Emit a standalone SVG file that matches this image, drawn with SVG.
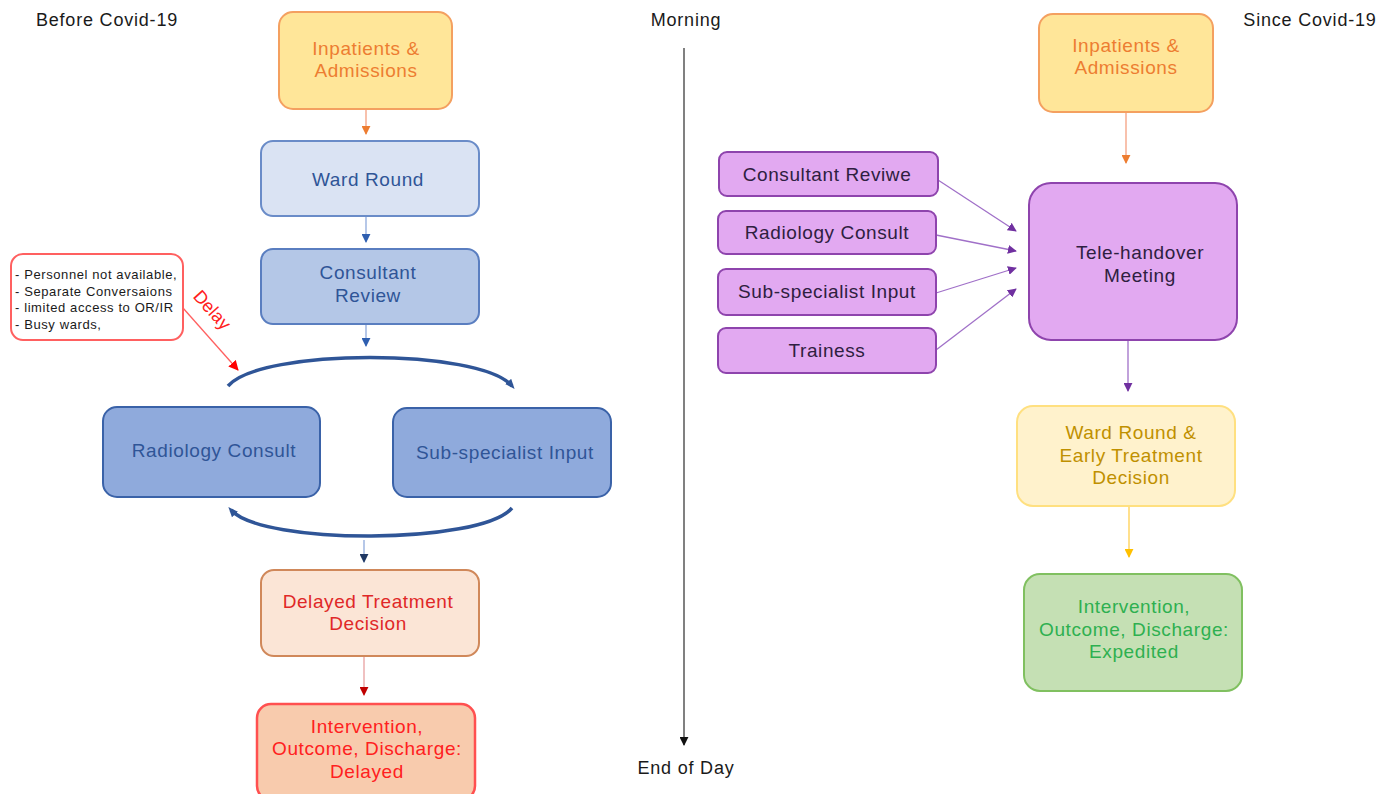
<svg xmlns="http://www.w3.org/2000/svg" width="1394" height="794" viewBox="0 0 1394 794">
<style>
text{font-family:"Liberation Sans",Arial,sans-serif;text-anchor:middle}
.t18{font-size:19px;letter-spacing:0.6px}
.lbl{font-size:18px;letter-spacing:0.8px;fill:#1a1a1a}
.note{font-size:13px;letter-spacing:0.6px;fill:#1a1a1a;text-anchor:start}
.ln{fill:none;stroke-width:1.3}
</style>
<defs>
<marker id="aO" viewBox="0 0 10 10" refX="9" refY="5" markerWidth="9" markerHeight="9" markerUnits="userSpaceOnUse" orient="auto"><path d="M0,0L10,5L0,10z" fill="#ED7D31"/></marker>
<marker id="aB" viewBox="0 0 10 10" refX="9" refY="5" markerWidth="9" markerHeight="9" markerUnits="userSpaceOnUse" orient="auto"><path d="M0,0L10,5L0,10z" fill="#2F5FB0"/></marker>
<marker id="aN" viewBox="0 0 10 10" refX="9" refY="5" markerWidth="9" markerHeight="9" markerUnits="userSpaceOnUse" orient="auto"><path d="M0,0L10,5L0,10z" fill="#1F3864"/></marker>
<marker id="aR" viewBox="0 0 10 10" refX="9" refY="5" markerWidth="9" markerHeight="9" markerUnits="userSpaceOnUse" orient="auto"><path d="M0,0L10,5L0,10z" fill="#C00000"/></marker>
<marker id="aRed" viewBox="0 0 10 10" refX="9" refY="5" markerWidth="10" markerHeight="10" markerUnits="userSpaceOnUse" orient="auto"><path d="M0,0L10,5L0,10z" fill="#FF0000"/></marker>
<marker id="aP" viewBox="0 0 10 10" refX="9" refY="5" markerWidth="9" markerHeight="9" markerUnits="userSpaceOnUse" orient="auto"><path d="M0,0L10,5L0,10z" fill="#7030A0"/></marker>
<marker id="aY" viewBox="0 0 10 10" refX="9" refY="5" markerWidth="9" markerHeight="9" markerUnits="userSpaceOnUse" orient="auto"><path d="M0,0L10,5L0,10z" fill="#FFC000"/></marker>
<marker id="aK" viewBox="0 0 10 10" refX="9" refY="5" markerWidth="9" markerHeight="9" markerUnits="userSpaceOnUse" orient="auto"><path d="M0,0L10,5L0,10z" fill="#111"/></marker>
<marker id="aC" viewBox="0 0 10 10" refX="6" refY="5" markerWidth="10" markerHeight="10" markerUnits="userSpaceOnUse" orient="auto"><path d="M0,1L10,5L0,9z" fill="#2F5597"/></marker>
</defs>

<g id="labels">
<text x="107" y="26" class="lbl">Before Covid-19</text>
<text x="686" y="26" class="lbl">Morning</text>
<text x="1310" y="26" class="lbl">Since Covid-19</text>
<text x="686" y="774" class="lbl">End of Day</text>
</g>

<g id="connectors">
<line x1="684" y1="48" x2="684" y2="745" stroke="#808080" stroke-width="2" marker-end="url(#aK)"/>
<line class="ln" x1="366" y1="110" x2="366" y2="134" stroke="#F4A080" marker-end="url(#aO)"/>
<line class="ln" x1="366" y1="217" x2="366" y2="242" stroke="#8FAADC" marker-end="url(#aB)"/>
<line class="ln" x1="366" y1="325" x2="366" y2="346" stroke="#8FAADC" marker-end="url(#aB)"/>
<path d="M228,386 C260,348 480,348 512,386" fill="none" stroke="#2F5597" stroke-width="3.5" marker-end="url(#aC)"/>
<path d="M512,508 C480,545 262,545 231,510" fill="none" stroke="#2F5597" stroke-width="3.5" marker-end="url(#aC)"/>
<line class="ln" x1="364" y1="540" x2="364" y2="562" stroke="#8FAADC" marker-end="url(#aN)"/>
<line class="ln" x1="364" y1="657" x2="364" y2="695" stroke="#E8A0A0" marker-end="url(#aR)"/>
<line x1="183" y1="308" x2="238" y2="370" stroke="#FF6060" stroke-width="1.3" marker-end="url(#aRed)"/>
<line class="ln" x1="1126" y1="113" x2="1126" y2="163" stroke="#F4A080" marker-end="url(#aO)"/>
<line class="ln" x1="938" y1="180" x2="1016" y2="231" stroke="#A070C8" marker-end="url(#aP)"/>
<line class="ln" x1="936" y1="235" x2="1016" y2="251" stroke="#A070C8" marker-end="url(#aP)"/>
<line class="ln" x1="936" y1="293" x2="1016" y2="268" stroke="#A070C8" marker-end="url(#aP)"/>
<line class="ln" x1="936" y1="350" x2="1016" y2="289" stroke="#A070C8" marker-end="url(#aP)"/>
<line class="ln" x1="1128" y1="341" x2="1128" y2="391" stroke="#A070C8" marker-end="url(#aP)"/>
<line class="ln" x1="1129" y1="507" x2="1129" y2="557" stroke="#FFD050" marker-end="url(#aY)"/>
</g>

<g id="before-inpatients">
<rect x="279" y="12" width="173" height="97" rx="14" fill="#FFE699" stroke="#F4A060" stroke-width="2"/>
<text x="366" y="55" class="t18" fill="#ED7D31">Inpatients &amp;</text>
<text x="366" y="77" class="t18" fill="#ED7D31">Admissions</text>
</g>
<g id="before-ward-round">
<rect x="261" y="141" width="218" height="75" rx="12" fill="#DAE3F3" stroke="#6A8CC8" stroke-width="2"/>
<text x="368" y="186" class="t18" fill="#2F5597">Ward Round</text>
</g>
<g id="before-consultant-review">
<rect x="261" y="249" width="218" height="75" rx="12" fill="#B4C7E7" stroke="#5A7EC0" stroke-width="2"/>
<text x="368" y="279" class="t18" fill="#2F5597">Consultant</text>
<text x="368" y="302" class="t18" fill="#2F5597">Review</text>
</g>
<g id="before-radiology">
<rect x="103" y="407" width="217" height="90" rx="14" fill="#8FAADC" stroke="#3A62A8" stroke-width="2"/>
<text x="214" y="457" class="t18" fill="#2F5597">Radiology Consult</text>
</g>
<g id="before-subspecialist">
<rect x="393" y="408" width="218" height="89" rx="14" fill="#8FAADC" stroke="#3A62A8" stroke-width="2"/>
<text x="505" y="459" class="t18" fill="#2F5597">Sub-specialist Input</text>
</g>
<g id="before-delayed-decision">
<rect x="261" y="570" width="218" height="86" rx="13" fill="#FBE5D6" stroke="#D0885A" stroke-width="2"/>
<text x="368" y="608" class="t18" fill="#E02828">Delayed Treatment</text>
<text x="368" y="630" class="t18" fill="#E02828">Decision</text>
</g>
<g id="before-intervention">
<rect x="257" y="704" width="218" height="96" rx="14" fill="#F8CBAD" stroke="#FF5050" stroke-width="2.5"/>
<text x="367" y="733" class="t18" fill="#FF2020">Intervention,</text>
<text x="367" y="755" class="t18" fill="#FF2020">Outcome, Discharge:</text>
<text x="367" y="778" class="t18" fill="#FF2020">Delayed</text>
</g>
<g id="delay-note">
<rect x="11" y="254" width="172" height="86" rx="12" fill="#FFFFFF" stroke="#FF6060" stroke-width="2"/>
<text x="15" y="279" class="note">- Personnel not available,</text>
<text x="15" y="296" class="note">- Separate Conversaions</text>
<text x="15" y="312" class="note">- limited access to OR/IR</text>
<text x="15" y="329" class="note">- Busy wards,</text>
<text x="212" y="316" font-size="18" fill="#FF2020" transform="rotate(48 212 310)">Delay</text>
</g>

<g id="since-inpatients">
<rect x="1039" y="14" width="174" height="98" rx="14" fill="#FFE699" stroke="#F4A060" stroke-width="2"/>
<text x="1126" y="52" class="t18" fill="#ED7D31">Inpatients &amp;</text>
<text x="1126" y="74" class="t18" fill="#ED7D31">Admissions</text>
</g>
<g id="since-consultant">
<rect x="719" y="152" width="219" height="44" rx="8" fill="#E2A9F1" stroke="#8E44AD" stroke-width="2"/>
<text x="827" y="181" class="t18" fill="#2E2040">Consultant Reviwe</text>
</g>
<g id="since-radiology">
<rect x="718" y="211" width="218" height="43" rx="8" fill="#E2A9F1" stroke="#8E44AD" stroke-width="2"/>
<text x="827" y="239" class="t18" fill="#2E2040">Radiology Consult</text>
</g>
<g id="since-subspecialist">
<rect x="718" y="269" width="218" height="46" rx="8" fill="#E2A9F1" stroke="#8E44AD" stroke-width="2"/>
<text x="827" y="298" class="t18" fill="#2E2040">Sub-specialist Input</text>
</g>
<g id="since-trainees">
<rect x="718" y="328" width="218" height="45" rx="8" fill="#E2A9F1" stroke="#8E44AD" stroke-width="2"/>
<text x="827" y="357" class="t18" fill="#2E2040">Trainess</text>
</g>
<g id="since-tele-handover">
<rect x="1029" y="183" width="208" height="157" rx="22" fill="#E2A9F1" stroke="#8E44AD" stroke-width="2"/>
<text x="1140" y="259" class="t18" fill="#2E2040">Tele-handover</text>
<text x="1140" y="282" class="t18" fill="#2E2040">Meeting</text>
</g>
<g id="since-ward-round">
<rect x="1017" y="406" width="218" height="100" rx="16" fill="#FFF2CC" stroke="#FFE080" stroke-width="2"/>
<text x="1131" y="439" class="t18" fill="#BF9000">Ward Round &amp;</text>
<text x="1131" y="462" class="t18" fill="#BF9000">Early Treatment</text>
<text x="1131" y="484" class="t18" fill="#BF9000">Decision</text>
</g>
<g id="since-intervention">
<rect x="1024" y="574" width="218" height="117" rx="16" fill="#C5E0B4" stroke="#80C060" stroke-width="2"/>
<text x="1134" y="613" class="t18" fill="#2EB050">Intervention,</text>
<text x="1134" y="636" class="t18" fill="#2EB050">Outcome, Discharge:</text>
<text x="1134" y="658" class="t18" fill="#2EB050">Expedited</text>
</g>
</svg>
